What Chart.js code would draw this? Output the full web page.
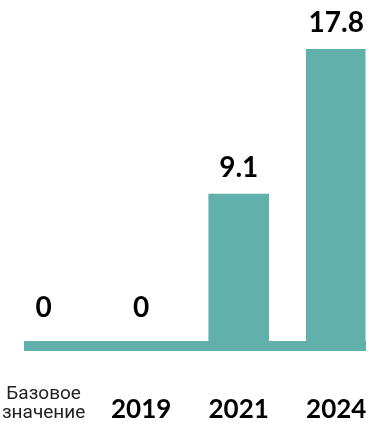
<!DOCTYPE html>
<html>
<head>
<meta charset="utf-8">
<script src="https://cdn.jsdelivr.net/npm/chart.js@4/dist/chart.umd.min.js"></script>
<style>
    body { margin: 0; background: #fff; }
    .wrap { position: relative; width: 369px; height: 426px; }
</style>
</head>
<body>
<div class="wrap"><canvas id="barChart"></canvas></div>
<script>
const categories = [['Базовое', 'значение'], '2019', '2021', '2024'];
const values = [0, 0, 9.1, 17.8];
const valueLabels = ['0', '0', '9.1', '17.8'];

const teal = '#62b0ab';

// value labels above bars
const valueLabelPlugin = {
    id: 'valueLabels',
    afterDatasetsDraw(chart) {
        const ctx = chart.ctx;
        const meta = chart.getDatasetMeta(0);
        ctx.save();
        ctx.font = 'bold 28px Lato';
        ctx.fillStyle = '#000';
        ctx.textAlign = 'center';
        ctx.textBaseline = 'alphabetic';
        meta.data.forEach((bar, i) => {
            const gap = values[i] === 0 ? 29 : 17;
            ctx.fillText(valueLabels[i], bar.x, bar.y - gap);
        });
        ctx.restore();
    }
};

new Chart(document.getElementById('barChart').getContext('2d'), {
    type: 'bar',
    data: {
        datasets: [{
            data: values.map((v, i) => ({ x: i, y: v })),
            backgroundColor: teal,
            borderWidth: 0,
            barThickness: 60
        }]
    },
    options: {
        responsive: true,
        maintainAspectRatio: false,
        animation: false,
        layout: { padding: { top: 49, left: 29, right: 3.5, bottom: 0 } },
        plugins: { legend: { display: false }, tooltip: { enabled: false } },
        scales: {
            x: {
                type: 'linear',
                offset: false,
                min: -0.15,
                max: 3.3,
                grid: { display: false, drawTicks: false, offset: false },
                border: { display: true, color: teal, width: 10 },
                ticks: {
                    stepSize: 1,
                    includeBounds: false,
                    autoSkip: false,
                    maxRotation: 0,
                    padding: 48,
                    crossAlign: 'far',
                    color: (c) => c.index === 0 ? '#222' : '#000',
                    font: (c) => c.index === 0
                        ? { family: 'Roboto', size: 19, weight: 'normal', lineHeight: '19.5px' }
                        : { family: 'Lato', size: 26, weight: 'bold', lineHeight: '23px' },
                    callback: (v) => categories[v] ?? ''
                },
                afterFit: (scale) => {
                    scale.height = 80;
                    scale.paddingLeft = 0;
                    scale.paddingRight = 0;
                }
            },
            y: {
                display: false,
                min: 0,
                max: Math.max(...values)
            }
        }
    },
    plugins: [valueLabelPlugin]
});
</script>
</body>
</html>
